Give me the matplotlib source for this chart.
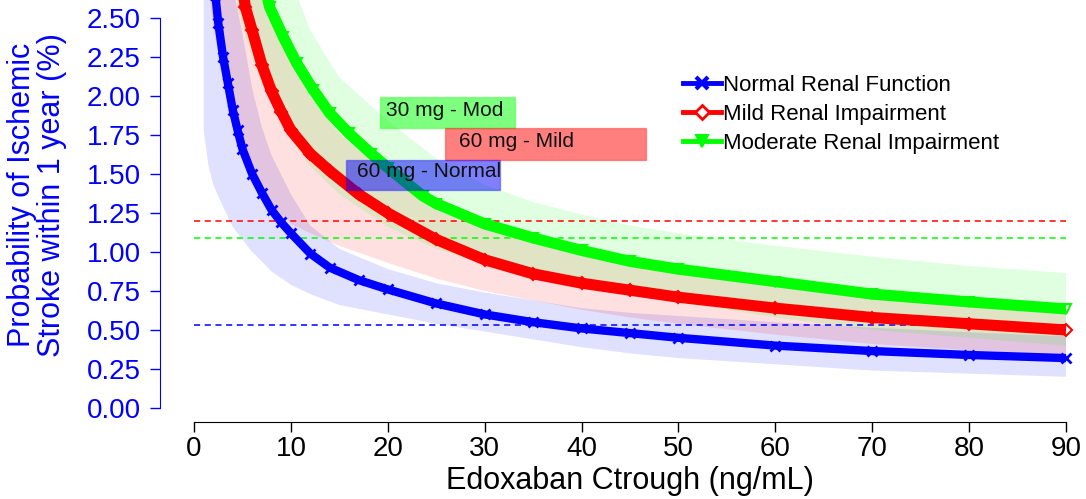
import matplotlib
matplotlib.use("Agg")
import matplotlib.pyplot as plt
from matplotlib.lines import Line2D
from matplotlib.patches import Rectangle
from matplotlib.ticker import FormatStrFormatter

plt.rcParams['font.family'] = ['Liberation Sans', 'DejaVu Sans']

# ---------------- data ----------------
x_normal = [2.2, 2.5, 3, 3.5, 4, 4.5, 5, 6, 7, 8, 9, 10, 12, 14, 17, 20, 25, 30, 35, 40, 45, 50, 60, 70, 80, 90]
p_normal = [2.65, 2.47, 2.25, 2.08, 1.91, 1.78, 1.66, 1.50, 1.38, 1.27, 1.19, 1.12, 0.99, 0.90, 0.82, 0.76,
            0.67, 0.60, 0.55, 0.51, 0.48, 0.45, 0.40, 0.365, 0.34, 0.32]

x_mild = [5, 5.3, 6, 7, 8, 9, 10, 12, 14, 17, 20, 25, 30, 35, 40, 45, 50, 60, 70, 80, 90]
p_mild = [2.70, 2.57, 2.42, 2.20, 2.03, 1.90, 1.78, 1.63, 1.52, 1.37, 1.25, 1.08, 0.95, 0.86, 0.80, 0.755,
          0.71, 0.64, 0.58, 0.54, 0.50]

x_mod = [7.5, 7.8, 9.2, 10.6, 12.3, 14, 16, 18.3, 20, 23.6, 25, 30, 35, 40, 45, 50, 60, 70, 80, 90]
p_mod = [2.65, 2.57, 2.38, 2.21, 2.04, 1.89, 1.76, 1.63, 1.54, 1.36, 1.31, 1.18, 1.09, 1.01, 0.94, 0.89,
         0.81, 0.73, 0.68, 0.635]

band_x = [1, 1.5, 2, 3, 4, 5, 6, 7, 8, 10, 12, 15, 20, 25, 30, 35, 40, 45, 50, 60, 70, 80, 90]
normal_lo = [1.78, 1.55, 1.43, 1.29, 1.16, 1.08, 1.00, 0.94, 0.875, 0.79, 0.73, 0.66, 0.60, 0.54, 0.49,
             0.44, 0.39, 0.35, 0.32, 0.28, 0.24, 0.22, 0.20]
normal_hi = [6.0, 4.5, 3.6, 3.0, 2.7, 2.40, 2.05, 1.80, 1.62, 1.37, 1.17, 1.02, 0.89, 0.80, 0.74, 0.69,
             0.64, 0.61, 0.59, 0.55, 0.515, 0.485, 0.46]
mild_lo = [3.3, 2.70, 2.45, 2.10, 1.85, 1.65, 1.48, 1.38, 1.30, 1.18, 1.12, 1.04, 0.93, 0.83, 0.75, 0.69,
           0.63, 0.58, 0.54, 0.47, 0.41, 0.37, 0.34]
mild_hi = [9.0, 7.0, 5.8, 4.4, 3.7, 3.3, 2.98, 2.75, 2.55, 2.22, 2.00, 1.76, 1.50, 1.30, 1.16, 1.07,
           1.00, 0.93, 0.88, 0.80, 0.72, 0.67, 0.625]
mod_lo = [6.0, 4.6, 3.9, 3.0, 2.72, 2.45, 2.25, 2.08, 1.95, 1.72, 1.55, 1.37, 1.16, 1.02, 0.92, 0.85,
          0.78, 0.73, 0.68, 0.58, 0.50, 0.45, 0.40]
mod_hi = [9.0, 8.0, 7.0, 5.5, 4.6, 4.0, 3.6, 3.3, 3.05, 2.75, 2.42, 2.12, 1.84, 1.60, 1.43, 1.32,
          1.24, 1.17, 1.12, 1.04, 0.97, 0.91, 0.865]

ref_levels = [1.20, 1.09, 0.535]          # mild, moderate, normal
ref_colors = ['red', 'lime', 'blue']

series_names = ['Normal Renal Function', 'Mild Renal Impairment', 'Moderate Renal Impairment']
box_labels = ['30 mg - Mod', '60 mg - Mild', '60 mg - Normal']
x_ticks = [0, 10, 20, 30, 40, 50, 60, 70, 80, 90]
y_ticks = [0.00, 0.25, 0.50, 0.75, 1.00, 1.25, 1.50, 1.75, 2.00, 2.25, 2.50]

# ---------------- figure ----------------
W, H = 1086, 499
fig = plt.figure(figsize=(W / 100, H / 100), dpi=100)
ax = fig.add_axes([160 / W, (H - 422) / H, (W - 160) / W, 422 / H])
ax.set_xlim(-3.509, 92.06)
ax.set_ylim(-0.0897, 2.615)

# confidence bands
ax.fill_between(band_x, normal_lo, normal_hi, color='blue', alpha=0.12, lw=0)
ax.fill_between(band_x, mild_lo, mild_hi, color='red', alpha=0.12, lw=0)
ax.fill_between(band_x, mod_lo, mod_hi, color='lime', alpha=0.12, lw=0)

# reference dashed lines
for lvl, c in zip(ref_levels, ref_colors):
    ax.hlines(lvl, 0, 90, colors=c, linestyles=(0, (4, 3)), lw=1.1)

# curves
ax.plot(x_normal, p_normal, color='blue', lw=6, solid_capstyle='butt',
        marker='x', ms=6.5, mew=2, zorder=5)
ax.plot(x_mild, p_mild, color='red', lw=8, solid_capstyle='butt',
        marker='D', ms=6.5, mfc='none', mew=1.5, zorder=5)
ax.plot(x_mod, p_mod, color='lime', lw=8, solid_capstyle='butt',
        marker='v', ms=7, mfc='none', mew=1.5, zorder=5)

# dose boxes
boxes = [((19.2, 1.795), 13.9, 0.199, (0, 1, 0), (19.8, 1.872)),
         ((25.9, 1.590), 20.7, 0.205, (1, 0, 0), (27.4, 1.671)),
         ((15.7, 1.397), 15.9, 0.193, (0, 0, 1), (16.8, 1.479))]
for (xy, w, h, c, tpos), lab in zip(boxes, box_labels):
    ax.add_patch(Rectangle(xy, w, h, facecolor=c + (0.5,), edgecolor=c + (0.35,), lw=1, zorder=6))
    ax.text(tpos[0], tpos[1], lab, fontsize=15, color='#111111', ha='left', va='baseline', zorder=7)

# axes styling
for s in ['top', 'right']:
    ax.spines[s].set_visible(False)
ax.spines['left'].set_color('blue')
ax.spines['left'].set_bounds(0, 2.5)
ax.spines['bottom'].set_color('black')
ax.spines['bottom'].set_bounds(0, 90)
ax.set_xticks(x_ticks)
ax.set_yticks(y_ticks)
ax.yaxis.set_major_formatter(FormatStrFormatter('%.2f'))
ax.tick_params(axis='y', colors='blue', length=7, width=1, labelsize=20, pad=7)
ax.tick_params(axis='x', colors='black', length=7, width=1, labelsize=20, pad=3)

fig.text(630 / W, (H - 489) / H, 'Edoxaban Ctrough (ng/mL)', fontsize=22, ha='center', va='baseline')
fig.text(37 / W, (H - 195) / H, 'Probability of Ischemic\nStroke within 1 year (%)', fontsize=22,
         color='blue', rotation=90, ha='center', va='center', multialignment='center', linespacing=0.98)

# legend
handles = [Line2D([], [], color='blue', lw=3.5, marker='x', ms=8, mew=3),
           Line2D([], [], color='red', lw=3.5, marker='D', ms=7, mfc='white', mew=2),
           Line2D([], [], color='lime', lw=3.5, marker='v', ms=9, mfc='lime', mew=1.5)]
leg = ax.legend(handles, series_names, loc='upper left', bbox_to_anchor=(683 / W, (H - 75) / H),
                bbox_transform=fig.transFigure, frameon=False, fontsize=16, handlelength=1.7,
                handletextpad=0.1, labelspacing=0.36, borderpad=0, borderaxespad=0)
leg.set_zorder(10)

fig.savefig('out.png', dpi=100)
